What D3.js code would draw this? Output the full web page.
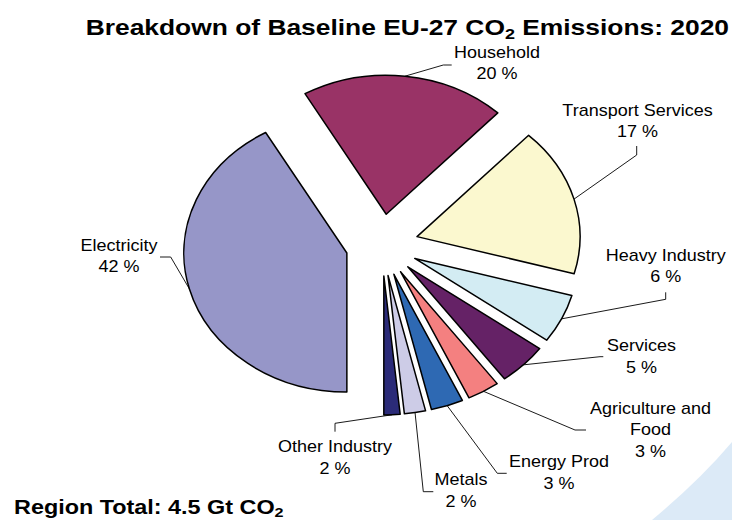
<!DOCTYPE html>
<html><head><meta charset="utf-8">
<script src="https://cdn.jsdelivr.net/npm/d3@7"></script>
<style>
html,body{margin:0;padding:0;background:#fff;}
svg{display:block;}
text{font-family:"Liberation Sans",Arial,Helvetica,sans-serif;fill:#000;}
</style>
</head><body>
<svg id="chart" width="732" height="520"></svg>
<script>
// ---- data ----
const categories = ["Electricity","Household","Transport Services","Heavy Industry","Services","Agriculture and Food","Energy Prod","Metals","Other Industry"];
const shares = [41.7, 20.3, 17.3, 5.7, 4.9, 3.2, 3.2, 2.1, 1.6];
const colors = ["#9696C8","#993366","#FBF8CF","#D3ECF3","#652266","#F48080","#2E69B3","#CDCCE7","#2B2B78"];
const labelLines = [["Electricity"],["Household"],["Transport Services"],["Heavy Industry"],["Services"],["Agriculture and","Food"],["Energy Prod"],["Metals"],["Other Industry"]];
const titleMain = "Breakdown of Baseline EU-27 CO";
const titleSub = "2";
const titleTail = " Emissions: 2020";
const footMain = "Region Total: 4.5 Gt CO";
const footSub = "2";

// ---- layout ----
const W = 732, H = 520;
const cx = 382, cy = 245, R = 139, explode = 31, sxPie = 1.173, sxText = 1.125, sxBold = 1.2;
const labelLayout = [
  {x:119, y:250.5, elbow:[170.7,257], end:[160,257]},
  {x:497, y:57.5,  elbow:[443.3,65],  end:[451.7,65]},
  {x:637.5,y:115.5,elbow:[636.7,155], end:[636.7,146]},
  {x:665.8,y:260.5,elbow:[665.7,299.3],end:[665.7,292.3]},
  {x:641.5,y:351,  elbow:[600,356.7], end:[603.3,356.7]},
  {x:650.5,y:413.5,elbow:[575,430],   end:[586,430]},
  {x:559, y:467,   elbow:[497.3,473.3],end:[506.7,473.3]},
  {x:461, y:485,   elbow:[423.3,491.7],end:[433.3,491.7]},
  {x:335, y:452,   elbow:[335,423.3], end:[335,431.7]}
];
const lineGap = 21.5;

const svg = d3.select("#chart");

// background swoosh
svg.append("path")
  .attr("d", `M652,${H} Q700,480 ${W},442 L${W},${H} Z`)
  .attr("fill", "#DCEAF7");

const total = d3.sum(shares);
const pie = d3.pie().sort(null).value(d => d).startAngle(Math.PI).endAngle(3 * Math.PI);
const arcs = pie(shares);
const arc = d3.arc().innerRadius(0).outerRadius(R);

const g = svg.append("g").attr("transform", `translate(${cx},${cy}) scale(${sxPie},1)`);
g.selectAll("path.slice").data(arcs).join("path")
  .attr("class", "slice")
  .attr("d", arc)
  .attr("transform", d => {
    const m = (d.startAngle + d.endAngle) / 2;
    return `translate(${Math.sin(m) * explode},${-Math.cos(m) * explode})`;
  })
  .attr("fill", (d, i) => colors[i])
  .attr("stroke", "#000")
  .attr("stroke-width", 1.5)
  .attr("stroke-linejoin", "round")
  .attr("vector-effect", "non-scaling-stroke");

// leader lines
arcs.forEach((d, i) => {
  const m = (d.startAngle + d.endAngle) / 2;
  const r = R + explode;
  const sx = cx + sxPie * Math.sin(m) * r;
  const sy = cy - Math.cos(m) * r;
  const L = labelLayout[i];
  svg.append("path")
    .attr("d", d3.line()([[sx, sy], L.elbow, L.end]))
    .attr("fill", "none")
    .attr("stroke", "#000")
    .attr("stroke-width", 0.9);
});

// labels
arcs.forEach((d, i) => {
  const L = labelLayout[i];
  const lines = labelLines[i].concat([Math.round(d.value / total * 100) + " %"]);
  lines.forEach((t, k) => {
    svg.append("text")
      .attr("transform", `translate(${L.x},${L.y + k * lineGap}) scale(${sxText},1)`)
      .attr("text-anchor", "middle")
      .attr("font-size", 16)
      .text(t);
  });
});

// title
const title = svg.append("text")
  .attr("transform", `translate(729,35) scale(${sxBold},1)`)
  .attr("text-anchor", "end")
  .attr("font-size", 22)
  .attr("font-weight", "bold");
title.append("tspan").text(titleMain);
title.append("tspan").attr("font-size", 15).attr("dy", 4).text(titleSub);
title.append("tspan").attr("dy", -4).text(titleTail);

// footer
const foot = svg.append("text")
  .attr("transform", `translate(14,514) scale(${sxBold},1)`)
  .attr("text-anchor", "start")
  .attr("font-size", 19.5)
  .attr("font-weight", "bold");
foot.append("tspan").text(footMain);
foot.append("tspan").attr("font-size", 13.5).attr("dy", 3).text(footSub);
</script>
</body></html>
